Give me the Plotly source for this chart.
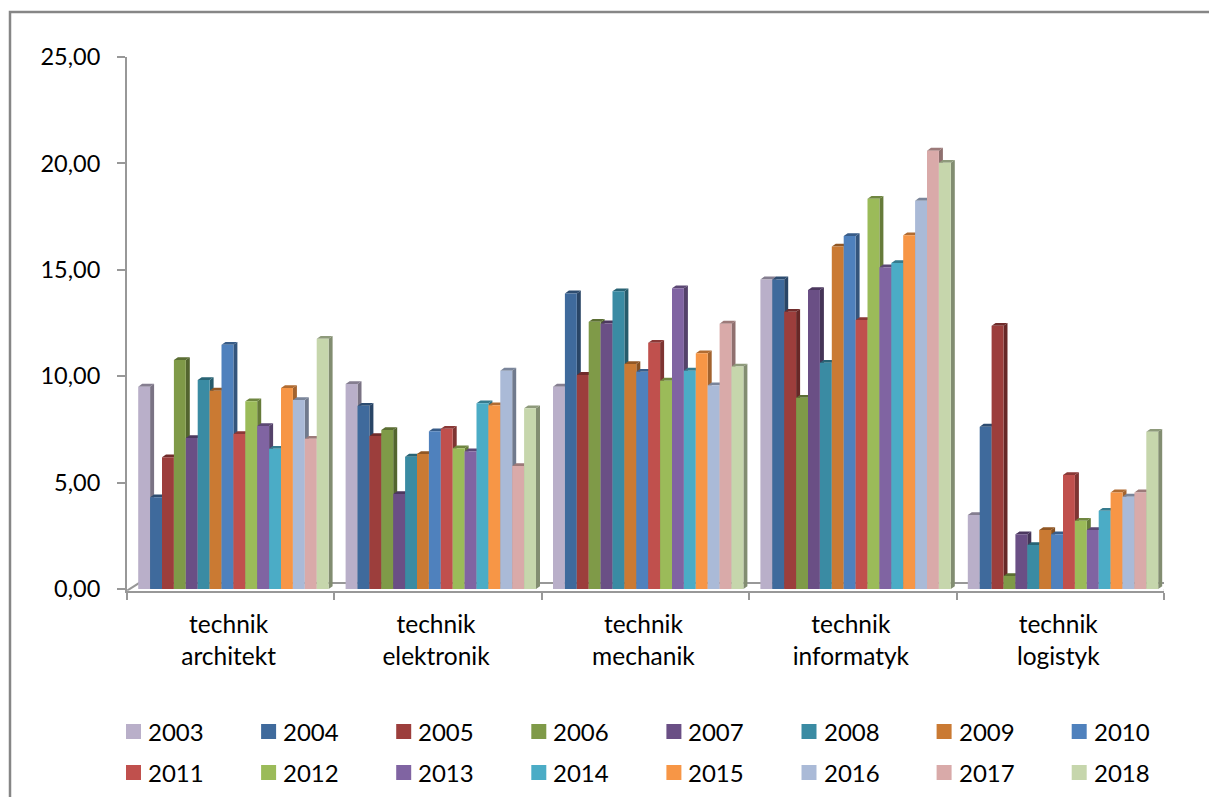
import plotly.graph_objects as go

WIDTH = 1209
HEIGHT = 797

categories = ["technik<br>architekt", "technik<br>elektronik", "technik<br>mechanik", "technik<br>informatyk", "technik<br>logistyk"]
years = ["2003", "2004", "2005", "2006", "2007", "2008", "2009", "2010",
         "2011", "2012", "2013", "2014", "2015", "2016", "2017", "2018"]

v2003 = [9.51, 9.63, 9.51, 14.55, 3.48]
v2004 = [4.31, 8.61, 13.89, 14.55, 7.63]
v2005 = [6.19, 7.19, 10.06, 13.03, 12.37]
v2006 = [10.76, 7.47, 12.56, 8.99, 0.61]
v2007 = [7.09, 4.46, 12.48, 14.05, 2.57]
v2008 = [9.82, 6.22, 13.99, 10.63, 2.07]
v2009 = [9.32, 6.34, 10.57, 16.09, 2.77]
v2010 = [11.48, 7.41, 10.21, 16.59, 2.57]
v2011 = [7.28, 7.53, 11.57, 12.64, 5.36]
v2012 = [8.82, 6.61, 9.79, 18.34, 3.21]
v2013 = [7.66, 6.47, 14.13, 15.12, 2.77]
v2014 = [6.59, 8.73, 10.26, 15.32, 3.68]
v2015 = [9.44, 8.63, 11.08, 16.62, 4.54]
v2016 = [8.88, 10.26, 9.57, 18.25, 4.34]
v2017 = [7.06, 5.78, 12.47, 20.60, 4.54]
v2018 = [11.76, 8.49, 10.45, 20.03, 7.39]

series = [v2003, v2004, v2005, v2006, v2007, v2008, v2009, v2010,
          v2011, v2012, v2013, v2014, v2015, v2016, v2017, v2018]

colors = ["#B9AFC9", "#3F6A9C", "#9C3E3C", "#7F9A48", "#6A4F85", "#3A8BA3", "#CA7A33", "#4F81BD",
          "#C0504D", "#9BBB59", "#8064A2", "#4BACC6", "#F79646", "#AABAD7", "#D9AAA9", "#C6D6AC"]

FONT = "Lato"
AXIS_GREY = "#989898"

# plot area in pixels, 0 on the value axis sits slightly above the floor line
PLOT_L, PLOT_R, PLOT_T, PLOT_B = 127, 1164, 57, 590.7
unit_x = (PLOT_R - PLOT_L) / 5
unit_y = (PLOT_B - PLOT_T) / 25.08

bar_w = 11.9 / unit_x
first_left = 11.2 / unit_x
depth_x = 4 / unit_x
depth_y = 2.8 / unit_y


def shade(hex_color, k):
    r, g, b = (int(hex_color[i:i + 2], 16) for i in (1, 3, 5))
    return f"rgb({int(r * k)},{int(g * k)},{int(b * k)})"


def px(x):
    return x / WIDTH


def py(y):
    return 1 - y / HEIGHT


fig = go.Figure()

# floor of the 3d box, drawn first so that the bars cover it
floor_x = [0, 12 / unit_x, 5 + 12 / unit_x, 5]
floor_y = [-0.08, 0.28, 0.28, -0.08]
fig.add_trace(go.Scatter(x=floor_x, y=floor_y, mode="lines", cliponaxis=False, showlegend=False,
                         hoverinfo="skip", line=dict(color=AXIS_GREY, width=2)))

# side and top faces of each bar
for s, values in enumerate(series):
    side_x, side_y, top_x, top_y = [], [], [], []
    for c, v in enumerate(values):
        left = c + first_left + s * bar_w
        right = left + bar_w
        side_x += [right, right + depth_x, right + depth_x, right, None]
        side_y += [0, depth_y, v + depth_y, v, None]
        top_x += [left, left + depth_x, right + depth_x, right, None]
        top_y += [v, v + depth_y, v + depth_y, v, None]
    fig.add_trace(go.Scatter(x=side_x, y=side_y, mode="lines", fill="toself", cliponaxis=False,
                             fillcolor=shade(colors[s], 0.66), line=dict(width=0),
                             showlegend=False, hoverinfo="skip"))
    fig.add_trace(go.Scatter(x=top_x, y=top_y, mode="lines", fill="toself", cliponaxis=False,
                             fillcolor=shade(colors[s], 0.72), line=dict(width=0),
                             showlegend=False, hoverinfo="skip"))

# front faces on an overlaid pair of axes, so they sit above the scatter faces
for s, values in enumerate(series):
    fig.add_trace(go.Bar(
        x=[c + first_left + (s + 0.5) * bar_w for c in range(len(categories))],
        y=values,
        width=bar_w,
        name=years[s],
        marker=dict(color=colors[s], line=dict(width=0)),
        xaxis="x2",
        yaxis="y2",
        showlegend=False,
    ))

# legend grid: 8 columns, 2 rows
shapes = [dict(type="path", xref="paper", yref="paper",
               path=f"M {px(10)} {py(797)} L {px(10)} {py(12)} L {px(1209)} {py(12)}",
               line=dict(color="#868686", width=2.5))]
annotations = []
for s, year in enumerate(years):
    col = s % 8
    row = s // 8
    x0 = 126 + col * 135.1
    y0 = 724 + row * 41
    shapes.append(dict(type="rect", xref="paper", yref="paper",
                       x0=px(x0), x1=px(x0 + 15), y0=py(y0), y1=py(y0 + 15),
                       fillcolor=colors[s], line=dict(width=0)))
    annotations.append(dict(xref="paper", yref="paper", x=px(x0 + 20), y=py(y0 + 7), text=year,
                            showarrow=False, xanchor="left", yanchor="middle",
                            font=dict(family=FONT, size=24, color="black")))

fig.update_layout(
    template="none",
    width=WIDTH,
    height=HEIGHT,
    margin=dict(l=0, r=0, t=0, b=0),
    paper_bgcolor="white",
    plot_bgcolor="white",
    barmode="overlay",
    separators=", ",
    font=dict(family=FONT, size=23, color="black"),
    shapes=shapes,
    annotations=annotations,
    xaxis=dict(
        automargin=False,
        domain=[px(PLOT_L), px(PLOT_R)],
        range=[0, 5],
        tickmode="array",
        tickvals=[0.49, 1.49, 2.49, 3.49, 4.49],
        ticktext=categories,
        tickfont=dict(size=24.5),
        ticks="",
        ticklabelstandoff=11,
        showgrid=False,
        zeroline=False,
        showline=True,
        linecolor=AXIS_GREY,
        linewidth=2,
        minor=dict(tickmode="array", tickvals=[0, 1, 2, 3, 4, 5], ticks="outside",
                   ticklen=7, tickwidth=2, tickcolor=AXIS_GREY, showgrid=False),
    ),
    yaxis=dict(
        automargin=False,
        domain=[py(PLOT_B), py(PLOT_T)],
        range=[-0.08, 25],
        tickmode="array",
        tickvals=[0, 5, 10, 15, 20, 25],
        tickformat=".2f",
        tickfont=dict(size=23.5),
        ticks="outside",
        ticklen=8,
        tickwidth=2,
        tickcolor=AXIS_GREY,
        ticklabelstandoff=12,
        showgrid=False,
        zeroline=False,
        showline=True,
        linecolor=AXIS_GREY,
        linewidth=2,
    ),
    xaxis2=dict(overlaying="x", domain=[px(PLOT_L), px(PLOT_R)], range=[0, 5], visible=False, automargin=False),
    yaxis2=dict(overlaying="y", domain=[py(PLOT_B), py(PLOT_T)], range=[-0.08, 25], visible=False, automargin=False),
)

fig.write_html("out.html", config=dict(displayModeBar=False), post_script="document.body.style.margin='0';")
